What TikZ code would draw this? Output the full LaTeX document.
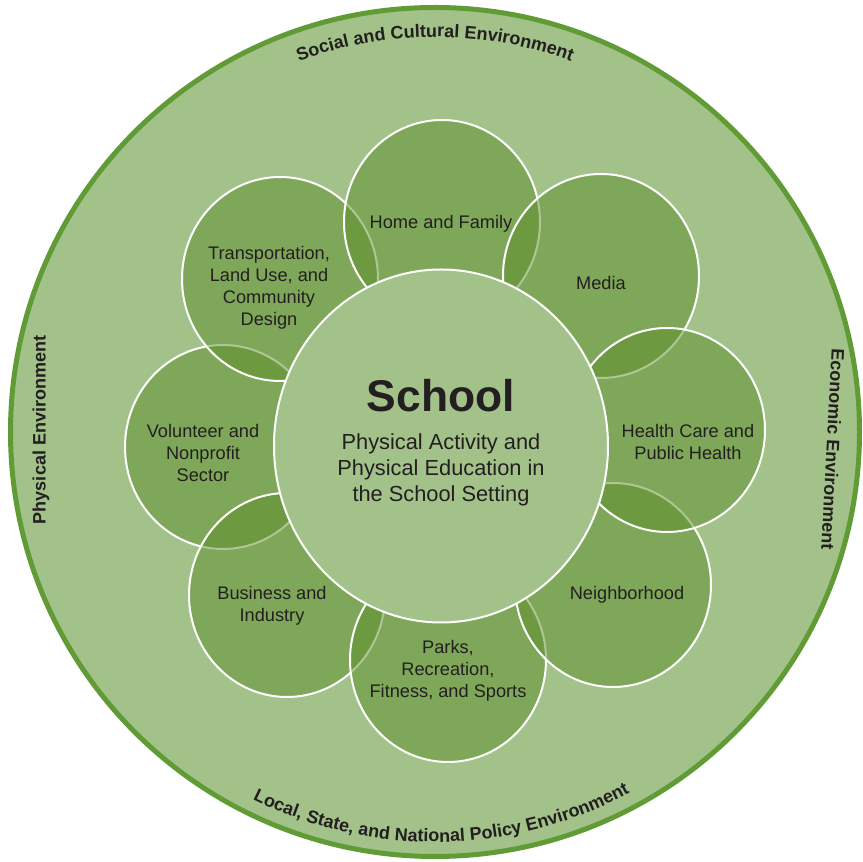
\documentclass[tikz,border=0pt]{standalone}
\usepackage{fontspec}
\setmainfont{Liberation Sans}
\usetikzlibrary{shapes.geometric,decorations.text}
\definecolor{envGreen}{RGB}{163,194,138}
\definecolor{rimGreen}{RGB}{96,155,54}
\definecolor{petalGreen}{RGB}{93,142,42}
\definecolor{inkGray}{RGB}{35,31,32}
\begin{document}
\begin{tikzpicture}[x=.5pt,y=.5pt,line join=round,line cap=round,
	petal/.style={ellipse,draw=white,line width=1pt,fill=petalGreen,fill opacity=.5,draw opacity=1,minimum width=98pt,minimum height=102pt,inner sep=0pt},
	lbl/.style={text=inkGray,align=center,font=\fontsize{9.1}{11}\selectfont},
	envlbl/.style={text=inkGray,font=\fontsize{9}{11}\selectfont\bfseries,inner sep=0pt}]
			\useasboundingbox (0,0) rectangle (863,862);
			\node[circle,fill=envGreen,draw=rimGreen,line width=2.5pt,minimum size=424.5pt,inner sep=0pt] (env) at (435,430) {};
			% texte am Rand
			\path[decorate,decoration={text along path,text align=center,text color=inkGray,
				text={|\fontsize{9}{11}\selectfont\bfseries|Social and Cultural Environment}}]
				([shift={(140:395)}]env.center) arc[start angle=140,end angle=40,radius=395];
			\path[decorate,decoration={text along path,text align=center,text color=inkGray,
				text={|\fontsize{9}{11}\selectfont\bfseries|Local, State, and National Policy Environment}}]
				([shift={(221:410)}]env.center) arc[start angle=221,end angle=321,radius=410];
			\node[envlbl,rotate=90] (phys) at (41,432) {Physical Environment};
			\node[envlbl,rotate=-93] (econ) at (833,413) {Economic Environment};
			\foreach \nm/\px/\py in {vol/223/415,bus/287/267,park/448/202,nbh/613/277,trans/280/583,home/442/640,media/601/586,health/667/432}
				\node[petal] (\nm) at (\px,\py) {};
			\node[ellipse,fill=envGreen,draw=white,line width=1pt,minimum width=167pt,minimum height=176.5pt,inner sep=0pt] (school) at (441,416) {};
			\node[lbl] (homeTxt) at (441,638) {Home and Family};
			\node[lbl] (mediaTxt) at (601,579) {Media};
			\node[lbl] (healthTxt) at (688,420) {Health Care and\\Public Health};
			\node[lbl] (nbhTxt) at (627,267) {Neighborhood};
			\node[lbl] (parkTxt) at (448,191) {Parks,\\Recreation,\\Fitness, and Sports};
			\node[lbl] (busTxt) at (272,256) {Business and\\Industry};
			\node[lbl] (volTxt) at (203,409) {Volunteer and\\Nonprofit\\Sector};
			\node[lbl] (transTxt) at (269,574) {Transportation,\\Land Use, and\\Community\\Design};
			\node[text=inkGray,font=\fontsize{22.2}{26}\selectfont\bfseries,anchor=base] (schoolTitle) at (441,450) {School};
			\node[text=inkGray,align=center,font=\fontsize{10.9}{13}\selectfont] (schoolSub) at (441,392) {Physical Activity and\\Physical Education in\\the School Setting};
	\end{tikzpicture}
\end{document}
